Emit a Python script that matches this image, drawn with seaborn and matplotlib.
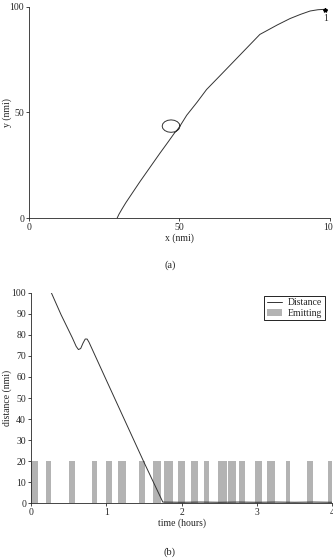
import matplotlib
matplotlib.use("Agg")
import matplotlib.pyplot as plt
import seaborn as sns
import pandas as pd

# (a) ground track of the aircraft (including the holding loop)
track_x = [29.3, 29.9, 31.0, 32.2, 34.5, 36.9, 40.2, 43.5, 46.2, 48.3, 49.4, 50.15,
           49.93, 49.29, 48.33, 47.2, 46.07, 45.11, 44.47, 44.25, 44.47, 45.11, 46.07,
           47.2, 48.33, 49.29, 49.93, 50.15,
           52.4, 55.8, 59.0, 63.5, 67.9, 72.3, 76.7, 78.9, 82.5, 86.7, 90.2, 93.4, 96.0, 98.3]
track_y = [0.0, 1.8, 4.5, 7.3, 12.2, 17.3, 24.0, 30.7, 36.0, 40.2, 42.0, 43.55,
           44.68, 45.64, 46.28, 46.5, 46.28, 45.64, 44.68, 43.55, 42.42, 41.46, 40.82,
           40.6, 40.82, 41.46, 42.42, 43.55,
           48.7, 54.8, 60.9, 67.5, 74.0, 80.5, 87.0, 88.7, 91.5, 94.5, 96.5, 98.1, 98.7, 98.9]
end_point = (98.3, 98.7)
end_label = "1"

# (b) distance to target and emission intervals
time_h = [0.27, 0.40, 0.55, 0.60, 0.63, 0.66, 0.69, 0.72, 0.745, 0.77, 1.00, 1.25,
          1.50, 1.75, 2.00, 2.25, 2.50, 2.75, 3.00, 3.25, 3.50, 3.75, 4.00]
distance = [100.0, 89.5, 78.5, 74.5, 73.0, 73.5, 76.0, 78.0, 78.0, 76.5, 58.5, 39.0,
            19.5, 0.6, 0.5, 0.6, 0.5, 0.6, 0.5, 0.6, 0.5, 0.6, 0.5]
emit_start = [0.0, 0.195, 0.51, 0.807, 0.998, 1.157, 1.44, 1.614, 1.76, 1.947,
              2.12, 2.29, 2.48, 2.62, 2.76, 2.98, 3.13, 3.39, 3.67, 3.94]
emit_end = [0.089, 0.266, 0.59, 0.878, 1.078, 1.264, 1.51, 1.73, 1.885, 2.044,
            2.22, 2.36, 2.60, 2.72, 2.84, 3.06, 3.24, 3.44, 3.75, 4.02]
emit_level = 20

sns.set_style("ticks")
plt.rcParams["font.family"] = ["Liberation Serif", "DejaVu Serif"]
plt.rcParams["font.size"] = 7
plt.rcParams["axes.linewidth"] = 0.6
plt.rcParams["xtick.major.size"] = 2
plt.rcParams["ytick.major.size"] = 2
plt.rcParams["xtick.major.width"] = 0.6
plt.rcParams["ytick.major.width"] = 0.6
plt.rcParams["xtick.major.pad"] = 1.5
plt.rcParams["ytick.major.pad"] = 1.5

fig = plt.figure(figsize=(3.33, 5.59), dpi=100)

# ---- (a)
ax1 = fig.add_axes([0.087, 0.610, 0.904, 0.3775])
df_track = pd.DataFrame({"x": track_x, "y": track_y})
sns.lineplot(data=df_track, x="x", y="y", sort=False, estimator=None,
             color="#333333", linewidth=0.7, ax=ax1)
ax1.plot(*end_point, marker="*", color="black", markersize=3)
ax1.text(end_point[0] + 0.3, end_point[1] - 2.0, end_label, ha="center", va="top", fontsize=7)
ax1.set_xlim(0, 100)
ax1.set_ylim(0, 100)
ax1.set_xticks([0, 50, 100])
ax1.set_yticks([0, 50, 100])
ax1.set_xlabel("x (nmi)", labelpad=1)
ax1.set_ylabel("y (nmi)", va="center")
ax1.yaxis.set_label_coords(-0.073, 0.5)
sns.despine(ax=ax1)
fig.text(0.51, 0.526, "(a)", ha="center", va="center", fontsize=7.5)

# ---- (b)
ax2 = fig.add_axes([0.093, 0.0996, 0.905, 0.3768])
widths = [e - s for s, e in zip(emit_start, emit_end)]
ax2.bar(emit_start, [emit_level] * len(emit_start), width=widths, align="edge",
        color="#b3b3b3", linewidth=0, label="Emitting")
df_dist = pd.DataFrame({"t": time_h, "d": distance})
sns.lineplot(data=df_dist, x="t", y="d", sort=False, estimator=None,
             color="#333333", linewidth=0.7, ax=ax2, label="Distance")
ax2.set_xlim(0, 4)
ax2.set_ylim(0, 100)
ax2.set_xticks([0, 1, 2, 3, 4])
ax2.set_yticks(range(0, 101, 10))
ax2.set_xlabel("time (hours)", labelpad=1)
ax2.set_ylabel("distance (nmi)", va="center")
ax2.yaxis.set_label_coords(-0.08, 0.5)
sns.despine(ax=ax2)
handles, labels = ax2.get_legend_handles_labels()
order = [labels.index("Distance"), labels.index("Emitting")]
leg = ax2.legend([handles[i] for i in order], [labels[i] for i in order],
                 loc="upper right", bbox_to_anchor=(0.975, 0.985), fontsize=7,
                 frameon=True, fancybox=False, framealpha=1, edgecolor="black",
                 borderpad=0.25, handlelength=1.6, handletextpad=0.6, labelspacing=0.15,
                 borderaxespad=0)
leg.get_frame().set_linewidth(0.6)
fig.text(0.51, 0.0125, "(b)", ha="center", va="center", fontsize=7.5)

fig.savefig("out.png", dpi=100)
